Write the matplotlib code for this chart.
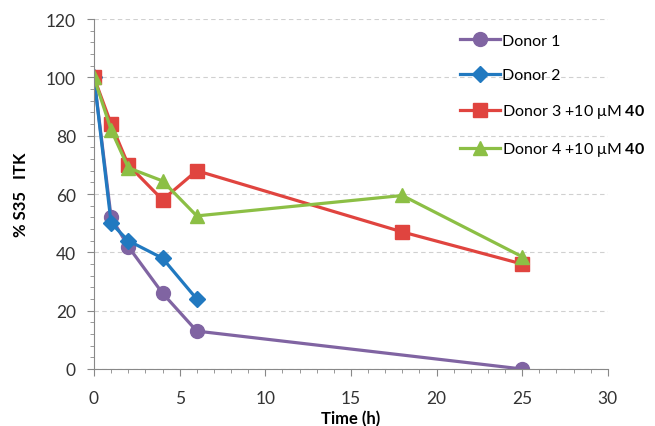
import matplotlib
matplotlib.use("Agg")
import matplotlib.pyplot as plt
from matplotlib.ticker import MultipleLocator

plt.rcParams['font.family'] = ['Lato', 'DejaVu Sans']
plt.rcParams['mathtext.fontset'] = 'custom'
plt.rcParams['mathtext.rm'] = 'Lato'
plt.rcParams['mathtext.bf'] = 'Lato:bold'

t1 = [0, 1, 2, 4, 6, 25]
d1 = [100, 52, 42, 26, 13, 0]
t2 = [0, 1, 2, 4, 6]
d2 = [100, 50, 44, 38, 24]
t3 = [0, 1, 2, 4, 6, 18, 25]
d3 = [100, 84, 70, 58, 68, 47, 36]
t4 = [0, 1, 2, 4, 6, 18, 25]
d4 = [100, 82, 69, 64.5, 52.5, 59.5, 38.5]
labels = ["Donor 1", "Donor 2",
          "Donor 3 +10 \u03bcM $\\mathbf{40}$",
          "Donor 4 +10 \u03bcM $\\mathbf{40}$"]

fig = plt.figure(figsize=(6.55, 4.27), dpi=100)
ax = fig.add_axes([0.1435, 0.1335, 0.7845, 0.8195])

ax.plot(t1, d1, color='#8064A2', lw=2.3, marker='o', ms=10, label=labels[0])
ax.plot(t2, d2, color='#2179C0', lw=2.3, marker='D', ms=8.5, label=labels[1])
ax.plot(t3, d3, color='#E0443F', lw=2.3, marker='s', ms=10, label=labels[2])
ax.plot(t4, d4, color='#8CBF45', lw=2.3, marker='^', ms=10.5, label=labels[3])

ax.set_xlim(0, 30)
ax.set_ylim(0, 120)
ax.xaxis.set_major_locator(MultipleLocator(5))
ax.xaxis.set_minor_locator(MultipleLocator(1))
ax.yaxis.set_major_locator(MultipleLocator(20))
ax.yaxis.set_minor_locator(MultipleLocator(4))
ax.grid(axis='y', which='major', color='#D0D0D0', ls=(0, (4, 3)), lw=0.8)
ax.set_axisbelow(True)
for s in ['top', 'right']:
    ax.spines[s].set_visible(False)
for s in ['left', 'bottom']:
    ax.spines[s].set_color('#888888')
ax.tick_params(which='both', direction='out', color='#888888', labelsize=12.5, labelcolor='#333333')
ax.tick_params(which='major', length=5)
ax.tick_params(which='minor', length=3)
ax.tick_params(axis='x', pad=10)
ax.tick_params(axis='y', pad=8)
ax.set_xlabel("Time (h)", fontsize=12, fontweight='bold', labelpad=3)
ax.set_ylabel("% S35   ITK", fontsize=12, fontweight='bold', labelpad=12)

ax.legend(loc='upper left', bbox_to_anchor=(0.681, 0.952), bbox_transform=fig.transFigure,
          frameon=False, fontsize=11.5, labelspacing=1.25, handlelength=2.5,
          handletextpad=0.1, markerscale=1.0)

fig.savefig("out.png", dpi=100)
